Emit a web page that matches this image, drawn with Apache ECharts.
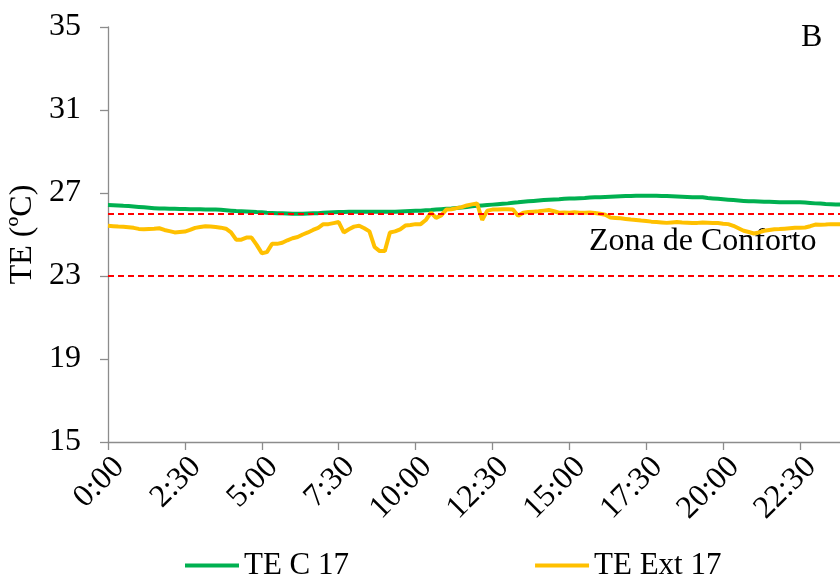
<!DOCTYPE html>
<html>
<head>
<meta charset="utf-8">
<script src="https://cdn.jsdelivr.net/npm/echarts@6/dist/echarts.min.js"></script>
<style>html,body{margin:0;padding:0;background:#fff}#c{width:840px;height:578px}</style>
</head>
<body>
<div id="c"></div>
<script>
// 10-minute samples from 0:00 to 23:50
const times = [];
for (let m = 0; m < 1440; m += 10) {
  times.push(Math.floor(m / 60) + ':' + String(m % 60).padStart(2, '0'));
}
const seriesNames = ['TE C 17', 'TE Ext 17'];
const teC17 = [
26.42,26.41,26.40,26.38,26.37,26.35,26.33,26.31,26.29,26.27,
26.25,26.25,26.24,26.24,26.23,26.23,26.22,26.22,26.22,26.21,
26.20,26.20,26.19,26.17,26.15,26.13,26.12,26.11,26.10,26.08,
26.07,26.05,26.04,26.03,26.02,26.01,26.00,26.00,26.00,26.01,
26.02,26.03,26.05,26.06,26.07,26.08,26.09,26.10,26.10,26.10,
26.10,26.10,26.10,26.10,26.10,26.10,26.10,26.11,26.12,26.13,
26.14,26.15,26.17,26.18,26.20,26.22,26.24,26.25,26.28,26.30,
26.33,26.36,26.38,26.40,26.42,26.44,26.46,26.48,26.50,26.53,
26.55,26.58,26.60,26.62,26.64,26.66,26.68,26.69,26.70,26.72,
26.73,26.74,26.75,26.76,26.78,26.79,26.80,26.81,26.82,26.83,
26.84,26.85,26.86,26.87,26.87,26.87,26.87,26.87,26.86,26.85,
26.84,26.83,26.82,26.81,26.80,26.80,26.79,26.76,26.74,26.72,
26.70,26.68,26.66,26.64,26.62,26.60,26.60,26.59,26.58,26.58,
26.57,26.56,26.56,26.55,26.55,26.55,26.54,26.52,26.50,26.49,
26.47,26.46,26.45,26.44
];
const teExt17 = [
25.42,25.40,25.38,25.37,25.35,25.32,25.27,25.25,25.27,25.28,
25.30,25.22,25.16,25.10,25.12,25.14,25.22,25.32,25.36,25.40,
25.38,25.36,25.33,25.28,25.10,24.75,24.75,24.85,24.85,24.50,
24.10,24.15,24.55,24.55,24.60,24.72,24.82,24.88,25.00,25.10,
25.22,25.32,25.50,25.50,25.55,25.60,25.10,25.25,25.38,25.42,
25.30,25.15,24.40,24.20,24.20,25.10,25.15,25.25,25.43,25.46,
25.50,25.50,25.70,26.05,25.80,25.92,26.20,26.22,26.27,26.32,
26.40,26.45,26.50,25.70,26.15,26.20,26.20,26.22,26.22,26.20,
25.90,26.05,26.08,26.10,26.12,26.15,26.18,26.12,26.05,26.06,
26.05,26.07,26.05,26.05,26.06,26.04,26.00,25.95,25.82,25.80,
25.78,25.75,25.72,25.70,25.67,25.65,25.62,25.60,25.58,25.56,
25.58,25.60,25.58,25.57,25.55,25.56,25.58,25.57,25.56,25.55,
25.52,25.50,25.42,25.30,25.18,25.12,25.05,25.10,25.18,25.22,
25.25,25.26,25.28,25.30,25.32,25.33,25.34,25.40,25.48,25.47,
25.48,25.50,25.50,25.50
];
const comfortLimits = [26, 23];
const comfortLabel = 'Zona de Conforto';
const panelLabel = 'B';
const yTitle = 'TE (ºC)';

const FONT = '"Liberation Serif", "Times New Roman", serif';
const FS = 32;
const chart = echarts.init(document.getElementById('c'), null, {renderer: 'canvas'});
chart.setOption({
  animation: false,
  backgroundColor: '#fff',
  textStyle: {fontFamily: FONT, color: '#000'},
  grid: {left: 108, right: -1, top: 27, bottom: 136, containLabel: false, outerBoundsMode: 'none'},
  xAxis: {
    type: 'category',
    data: times,
    boundaryGap: false,
    axisLine: {lineStyle: {color: '#8c8c8c', width: 1.3}},
    axisTick: {interval: 14, length: 8, lineStyle: {color: '#8c8c8c', width: 1.3}},
    axisLabel: {interval: 14, rotate: 45, margin: 9, verticalAlign: 'top', fontSize: FS, fontFamily: FONT, color: '#000'},
    splitLine: {show: false}
  },
  yAxis: {
    type: 'value',
    min: 15, max: 35, interval: 4,
    name: yTitle,
    nameLocation: 'middle',
    nameGap: 68,
    nameTextStyle: {fontSize: FS, fontFamily: FONT, color: '#000'},
    axisLine: {show: true, lineStyle: {color: '#8c8c8c', width: 1.3}},
    axisTick: {show: true, length: 8, lineStyle: {color: '#8c8c8c', width: 1.3}},
    axisLabel: {margin: 27, fontSize: FS, fontFamily: FONT, color: '#000'},
    splitLine: {show: false}
  },
  legend: {
    left: 180, top: 545,
    itemGap: 186,
    itemWidth: 54, itemHeight: 4,
    icon: 'rect',
    textStyle: {fontSize: 31, fontFamily: FONT, color: '#000'},
    data: seriesNames
  },
  series: [
    {
      name: seriesNames[0], type: 'line', data: teC17,
      showSymbol: false, symbol: 'none',
      lineStyle: {color: '#00B050', width: 4},
      itemStyle: {color: '#00B050'},
      markLine: {
        silent: true, symbol: 'none', label: {show: false},
        lineStyle: {color: '#FF0000', type: [6, 4], width: 2},
        data: comfortLimits.map(v => ({yAxis: v}))
      },
      z: 2
    },
    {
      name: seriesNames[1], type: 'line', data: teExt17,
      showSymbol: false, symbol: 'none',
      lineStyle: {color: '#FFC000', width: 4},
      itemStyle: {color: '#FFC000'},
      z: 3
    }
  ],
  graphic: [
    {type: 'text', left: 589, top: 226, style: {text: comfortLabel, font: FS + 'px ' + FONT, fill: '#000'}},
    {type: 'text', left: 801, top: 22, style: {text: panelLabel, font: FS + 'px ' + FONT, fill: '#000'}}
  ]
});
</script>
</body>
</html>
